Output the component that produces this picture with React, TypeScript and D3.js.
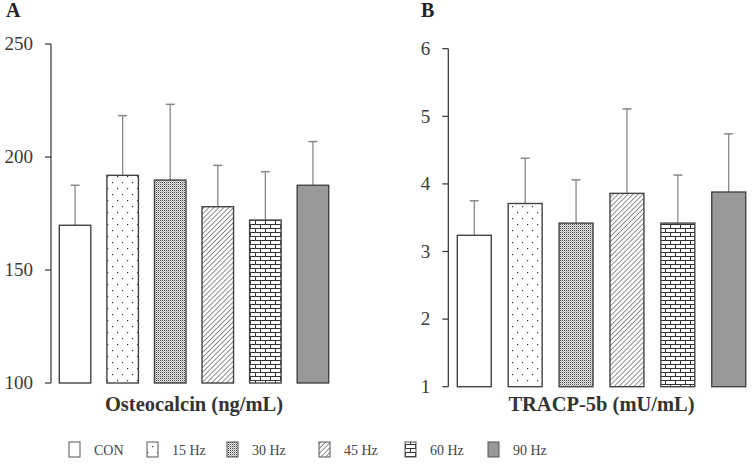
import React from "react";
import * as d3 from "d3";

const groups = ["CON", "15 Hz", "30 Hz", "45 Hz", "60 Hz", "90 Hz"];
const patternIds = ["pCon", "pDots", "pDense", "pDiag", "pBrick", "pSolid"];

const osteoMean = [169.8, 191.9, 189.8, 178.0, 172.1, 187.5];
const osteoErr = [17.7, 26.4, 33.5, 18.3, 21.4, 19.3];
const osteoTicks = [100, 150, 200, 250];

const tracpMean = [3.24, 3.71, 3.42, 3.86, 3.42, 3.88];
const tracpErr = [0.51, 0.67, 0.64, 1.25, 0.71, 0.86];
const tracpTicks = [1, 2, 3, 4, 5, 6];

const FONT = "'Liberation Serif', 'Times New Roman', serif";

function fillFor(i: number) {
  if (i === 0) return "#ffffff";
  if (i === 5) return "#999999";
  return `url(#${patternIds[i]})`;
}

type PanelProps = {
  letter: string;
  letterX: number;
  title: string;
  axisX: number;
  x0: number;
  x1: number;
  yTop: number;
  yBot: number;
  domain: [number, number];
  ticks: number[];
  means: number[];
  errs: number[];
  pad: number;
};

function Panel(p: PanelProps) {
  const y = d3.scaleLinear().domain(p.domain).range([p.yBot, p.yTop]);
  const x = d3.scaleBand<string>().domain(groups).range([p.x0, p.x1]).paddingInner(p.pad).paddingOuter(0);
  const bw = x.bandwidth();
  return (
    <g>
      <text x={p.letterX} y={17} fontFamily={FONT} fontWeight="bold" fontSize={20} fill="#222">{p.letter}</text>
      <line x1={p.axisX} x2={p.axisX} y1={y(p.domain[1])} y2={y(p.domain[0])} stroke="#333" strokeWidth={1.2} />
      {p.ticks.map((t) => (
        <g key={t}>
          <line x1={p.axisX - 6} x2={p.axisX} y1={y(t)} y2={y(t)} stroke="#333" strokeWidth={1.2} />
          <text x={p.axisX - 18} y={y(t)} dy="0.33em" textAnchor="end" fontFamily={FONT} fontSize={19} fill="#3a3a3a">{t}</text>
        </g>
      ))}
      {groups.map((g, i) => {
        const bx = x(g) as number;
        const cx = bx + bw / 2;
        const top = y(p.means[i]);
        const et = y(p.means[i] + p.errs[i]);
        return (
          <g key={g}>
            <line x1={cx} x2={cx} y1={top} y2={et} stroke="#888" strokeWidth={1.3} />
            <line x1={cx - 4.5} x2={cx + 4.5} y1={et} y2={et} stroke="#888" strokeWidth={1.5} />
            <rect x={bx} y={top} width={bw} height={y(p.domain[0]) - top} fill={fillFor(i)} stroke="#444" strokeWidth={1.4} />
          </g>
        );
      })}
      <text x={(p.x0 + p.x1) / 2} y={411} textAnchor="middle" fontFamily={FONT} fontWeight="bold" fontSize={20.5} fill="#333">{p.title}</text>
    </g>
  );
}

const legendBoxX = [69, 147, 227, 319, 405, 488];

export default function App() {
  return (
    <svg width={754} height={466} style={{ position: "absolute", left: 0, top: 0, background: "#fff" }}>
      <defs>
        <pattern id="pDots" width={10} height={12} patternUnits="userSpaceOnUse">
          <rect width={10} height={12} fill="#fff" />
          <rect x={2} y={2} width={1.2} height={1.2} fill="#333" />
          <rect x={7} y={8} width={1.2} height={1.2} fill="#333" />
        </pattern>
        <pattern id="pDense" width={2} height={2} patternUnits="userSpaceOnUse">
          <rect width={2} height={2} fill="#eeeeee" />
          <rect x={0} y={0} width={1} height={1} fill="#444" />
          <rect x={1} y={1} width={1} height={1} fill="#aaa" />
        </pattern>
        <pattern id="pDiag" width={3.5} height={3.5} patternUnits="userSpaceOnUse" patternTransform="rotate(45)">
          <rect width={3.5} height={3.5} fill="#fff" />
          <line x1={0} y1={0} x2={0} y2={3.5} stroke="#333" strokeWidth={1.1} />
        </pattern>
        <pattern id="pBrick" width={10} height={8} patternUnits="userSpaceOnUse">
          <rect width={10} height={8} fill="#fff" />
          <line x1={0} x2={10} y1={0.5} y2={0.5} stroke="#333" strokeWidth={1} />
          <line x1={0} x2={10} y1={4.5} y2={4.5} stroke="#333" strokeWidth={1} />
          <line x1={0.5} x2={0.5} y1={0} y2={4.5} stroke="#333" strokeWidth={1} />
          <line x1={5.5} x2={5.5} y1={4.5} y2={8} stroke="#333" strokeWidth={1} />
        </pattern>
      </defs>
      <Panel
        letter="A" letterX={6} title="Osteocalcin (ng/mL)" axisX={51} x0={59.3} x1={328.7}
        yTop={44} yBot={383} domain={[100, 250]} ticks={osteoTicks} means={osteoMean} errs={osteoErr} pad={0.337}
      />
      <Panel
        letter="B" letterX={421} title="TRACP-5b (mU/mL)" axisX={448.3} x0={457.3} x1={745.7}
        yTop={48.7} yBot={386.7} domain={[1, 6]} ticks={tracpTicks} means={tracpMean} errs={tracpErr} pad={0.333}
      />
      {groups.map((g, i) => (
        <g key={g}>
          <rect x={legendBoxX[i]} y={442} width={11} height={15} fill={fillFor(i)} stroke="#555" strokeWidth={1} />
          <text x={legendBoxX[i] + 25} y={455} fontFamily={FONT} fontSize={14} fill="#444">{g}</text>
        </g>
      ))}
    </svg>
  );
}
